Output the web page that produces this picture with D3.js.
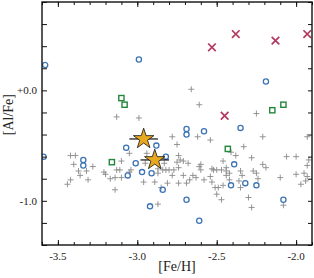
<!DOCTYPE html>
<html>
<head>
<meta charset="utf-8">
<script src="https://cdn.jsdelivr.net/npm/d3@7"></script>
<style>
  body { margin: 0; background: #fff; }
  svg text { font-family: "Liberation Serif", "DejaVu Serif", serif; fill: #222; }
</style>
</head>
<body>
<div id="chart"></div>
<script>
// [Fe/H], [Al/Fe] pairs
const fieldStars = [
  [-3.13,-0.24],[-2.99,-0.25],[-2.66,0.01],[-2.61,-0.13],[-2.25,-0.21],
  [-2.78,-0.42],[-2.62,-0.42],[-2.54,-0.45],[-2.21,-0.42],[-1.93,-0.42],
  [-2.75,-0.49],[-2.33,-0.51],[-2.41,-0.56],[-2.38,-0.59],[-2.28,-0.61],
  [-2.46,-0.64],[-2.06,-0.60],[-2.00,-0.60],[-1.92,-0.63],[-2.21,-0.67],
  [-2.19,-0.70],[-2.53,-0.71],[-2.50,-0.72],[-2.47,-0.72],[-2.44,-0.73],
  [-2.42,-0.75],[-2.44,-0.77],[-2.35,-0.73],[-2.34,-0.77],[-2.27,-0.73],
  [-2.25,-0.75],[-2.24,-0.80],[-2.10,-0.79],[-2.00,-0.76],[-1.95,-0.75],
  [-1.93,-0.78],[-1.94,-0.82],[-1.97,-0.85],[-2.53,-0.83],[-2.51,-0.88],
  [-2.49,-0.88],[-2.46,-0.86],[-2.42,-0.81],[-2.36,-0.82],[-2.35,-0.88],
  [-2.50,-0.94],[-2.47,-0.99],[-2.30,-0.97],[-2.28,-1.06],[-2.08,-1.04],
  [-2.74,-0.59],[-2.68,-0.66],[-2.60,-0.67],[-2.44,-0.70],[-1.93,-0.68],
  [-2.87,-1.03],[-3.05,-0.57],[-2.94,-0.57],[-2.73,-0.63],[-2.75,-0.65],
  [-2.71,-0.64],[-2.83,-0.66],[-2.61,-0.69],[-2.60,-0.72],[-3.04,-0.72],
  [-3.05,-0.74],[-2.87,-0.71],[-2.84,-0.72],[-2.82,-0.72],[-2.80,-0.72],
  [-2.77,-0.72],[-2.74,-0.70],[-2.87,-0.75],[-2.78,-0.77],[-2.71,-0.77],
  [-2.65,-0.77],[-2.63,-0.79],[-2.67,-0.81],[-2.69,-0.84],[-2.58,-0.81],
  [-2.54,-0.78],[-2.96,-0.83],[-2.89,-0.83],[-2.81,-0.84],[-2.74,-0.84],
  [-2.85,-0.88],[-3.42,-0.59],[-3.39,-0.59],[-3.40,-0.67],[-3.28,-0.69],
  [-3.37,-0.73],[-3.32,-0.73],[-3.36,-0.77],[-3.31,-0.81],[-3.42,-0.81],
  [-3.44,-0.85],[-3.21,-0.74],[-3.20,-0.76],[-3.17,-0.80],[-3.13,-0.72],
  [-3.11,-0.72],[-3.10,-0.64],[-3.14,-0.79],[-3.10,-0.79],[-3.14,-0.90],
  [-2.95,-0.66],[-2.52,-0.72]
];
const circleStars = [
  [-3.58,0.23],[-2.99,0.28],[-2.19,0.08],[-2.69,-0.35],[-2.69,-0.40],
  [-2.58,-0.37],[-2.35,-0.34],[-3.07,-0.52],[-2.88,-0.50],[-2.82,-0.60],
  [-3.01,-0.66],[-3.06,-0.77],[-2.97,-0.74],[-2.91,-0.75],[-2.84,-0.90],
  [-2.69,-0.99],[-2.92,-1.05],[-2.61,-1.18],[-3.59,-0.60],[-3.34,-0.63],
  [-3.34,-0.68],[-2.39,-0.67],[-2.32,-0.84],[-2.41,-0.86],[-2.25,-0.86],
  [-2.08,-0.99]
];
const squareStars = [
  [-3.10,-0.07],[-3.08,-0.13],[-2.15,-0.18],[-2.08,-0.13],[-3.16,-0.65],[-2.43,-0.53]
];
const crossStars = [
  [-2.53,0.39],[-2.38,0.51],[-2.13,0.45],[-1.93,0.51],[-2.45,-0.23]
];
// programme stars: feh, alfe, feh error
const programStars = [
  [-2.96,-0.44,0.09],[-2.89,-0.63,0.09]
];
const xTickLabels = [-3.5, -3.0, -2.5, -2.0];
const yTickLabels = [0.0, -1.0];

const width = 314, height = 278;
const margin = {top: 2, right: 2, bottom: 33, left: 42};
const w = width - margin.left - margin.right,
      h = height - margin.top - margin.bottom;

const svg = d3.select("#chart").append("svg")
    .attr("width", width).attr("height", height);
const g = svg.append("g")
    .attr("transform", "translate(" + margin.left + "," + margin.top + ")");

const x = d3.scaleLinear().domain([-3.6, -1.9]).range([0, w]);
const y = d3.scaleLinear().domain([-1.4, 0.8]).range([h, 0]);

g.append("defs").append("clipPath").attr("id", "clip")
  .append("rect").attr("width", w).attr("height", h);
const plot = g.append("g").attr("clip-path", "url(#clip)");

// ticks (inward on all four sides)
const xMinor = d3.range(-3.6, -1.89, 0.1).map(v => +v.toFixed(2));
const yMinor = d3.range(-1.4, 0.81, 0.2).map(v => +v.toFixed(2));
const isMajorX = v => Math.abs(v * 2 - Math.round(v * 2)) < 1e-6;

g.append("g").attr("transform", "translate(0," + h + ")")
  .call(d3.axisBottom(x).tickValues(xMinor).tickSize(-3).tickFormat(""))
  .call(a => a.select(".domain").remove());
g.append("g")
  .call(d3.axisTop(x).tickValues(xMinor).tickSize(-3).tickFormat(""))
  .call(a => a.select(".domain").remove());
g.append("g").attr("transform", "translate(0," + h + ")")
  .call(d3.axisBottom(x).tickValues(xMinor.filter(isMajorX)).tickSize(-5).tickFormat(""))
  .call(a => a.select(".domain").remove());
g.append("g")
  .call(d3.axisTop(x).tickValues(xMinor.filter(isMajorX)).tickSize(-5).tickFormat(""))
  .call(a => a.select(".domain").remove());
g.append("g")
  .call(d3.axisLeft(y).tickValues(yMinor).tickSize(-5).tickFormat(""))
  .call(a => a.select(".domain").remove());
g.append("g").attr("transform", "translate(" + w + ",0)")
  .call(d3.axisRight(y).tickValues(yMinor).tickSize(-4).tickFormat(""))
  .call(a => a.select(".domain").remove());
g.selectAll(".tick line").attr("stroke", "#111").attr("stroke-width", 1);

// tick labels
g.selectAll(".xlab").data(xTickLabels).enter().append("text")
  .attr("x", d => x(d)).attr("y", h + 15)
  .attr("text-anchor", "middle").attr("font-size", 11)
  .text(d => d3.format(".1f")(d).replace("−", "-"));
g.selectAll(".ylab").data(yTickLabels).enter().append("text")
  .attr("x", -5).attr("y", d => y(d) + 4)
  .attr("text-anchor", "end").attr("font-size", 11)
  .text(d => (d >= 0 ? "+" : "") + d3.format(".1f")(d).replace("−", "-"));

// axis titles
svg.append("text")
  .attr("x", margin.left + w / 2).attr("y", 271)
  .attr("text-anchor", "middle").attr("font-size", 14)
  .text("[Fe/H]");
svg.append("text")
  .attr("transform", "translate(13," + (margin.top + y(-0.22)) + ") rotate(-90)")
  .attr("text-anchor", "middle").attr("font-size", 14)
  .text("[Al/Fe]");

// grey field sample
plot.selectAll(".field").data(fieldStars).enter().append("path")
  .attr("transform", d => "translate(" + x(d[0]) + "," + y(d[1]) + ")")
  .attr("d", "M-3,0H3M0,-3V3")
  .attr("stroke", "#8a8a8a").attr("stroke-width", 0.9).attr("fill", "none");

plot.selectAll(".circ").data(circleStars).enter().append("circle")
  .attr("cx", d => x(d[0])).attr("cy", d => y(d[1])).attr("r", 2.6)
  .attr("fill", "none").attr("stroke", "#3c74b4").attr("stroke-width", 1.3);

plot.selectAll(".sq").data(squareStars).enter().append("rect")
  .attr("x", d => x(d[0]) - 2.6).attr("y", d => y(d[1]) - 2.6)
  .attr("width", 5.2).attr("height", 5.2)
  .attr("fill", "none").attr("stroke", "#22873a").attr("stroke-width", 1.4);

plot.selectAll(".cross").data(crossStars).enter().append("path")
  .attr("transform", d => "translate(" + x(d[0]) + "," + y(d[1]) + ")")
  .attr("d", "M-3.8,-3.8L3.8,3.8M-3.8,3.8L3.8,-3.8")
  .attr("stroke", "#b23a5e").attr("stroke-width", 1.7).attr("fill", "none");

// programme stars with error bars
plot.selectAll(".err").data(programStars).enter().append("line")
  .attr("x1", d => x(d[0] - d[2])).attr("x2", d => x(d[0] + d[2]))
  .attr("y1", d => y(d[1])).attr("y2", d => y(d[1]))
  .attr("stroke", "#111").attr("stroke-width", 1.2);
plot.selectAll(".star").data(programStars).enter().append("path")
  .attr("transform", d => "translate(" + x(d[0]) + "," + y(d[1]) + ")")
  .attr("d", d3.symbol().type(d3.symbolStar).size(130))
  .attr("fill", "#e8a820").attr("stroke", "#111").attr("stroke-width", 0.8);

// frame
g.append("rect").attr("width", w).attr("height", h)
  .attr("fill", "none").attr("stroke", "#111").attr("stroke-width", 1.4);
</script>
</body>
</html>
